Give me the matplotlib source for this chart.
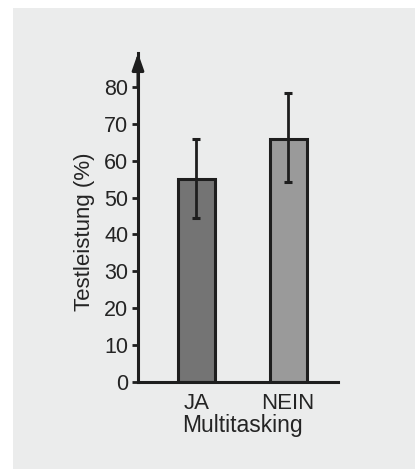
import matplotlib.pyplot as plt

# Data
categories = ['JA', 'NEIN']
values = [55, 66]
err_low = [44.4, 54.3]
err_high = [66, 78.4]
yticks = [0, 10, 20, 30, 40, 50, 60, 70, 80]

bar_colors = ['#747474', '#9a9a9a']
ink = '#1e1e1e'
bg = '#ebecec'
txt = '#242424'

plt.rcParams['font.family'] = ['Liberation Sans', 'DejaVu Sans']

fig = plt.figure(figsize=(4.15, 4.69), dpi=100)
fig.patch.set_facecolor('white')
# light grey panel behind the chart
fig.patches.append(plt.Rectangle((13 / 415, 0), 1, 1 - 8 / 469, transform=fig.transFigure,
                                 facecolor=bg, edgecolor='none', zorder=-10))

ax = fig.add_axes([138 / 415, 87 / 469, 200 / 415, 329 / 469])
ax.set_facecolor('none')

x = list(range(len(categories)))
yerr = [[v - lo for v, lo in zip(values, err_low)],
        [hi - v for v, hi in zip(values, err_high)]]
ax.bar(x, values, width=0.404, color=bar_colors, edgecolor=ink, linewidth=2.2, zorder=2)
ax.errorbar(x, values, yerr=yerr, fmt='none', ecolor=ink, elinewidth=2.0,
            capsize=3, capthick=2.2, zorder=3)

ax.set_xlim(-0.639, 1.546)
ax.set_ylim(0, 89.2)
ax.set_yticks(yticks)
ax.set_xticks(x)
ax.set_xticklabels(categories)

for s in ['top', 'right']:
    ax.spines[s].set_visible(False)
for s in ['left', 'bottom']:
    ax.spines[s].set_linewidth(2.2)
    ax.spines[s].set_color(ink)

ax.tick_params(axis='y', length=4, width=2, color=ink, labelsize=15.5, labelcolor=txt, pad=3)
ax.tick_params(axis='x', length=0, labelsize=16, labelcolor=txt, pad=8)

# arrow head on the y axis
ax.annotate('', xy=(0, 1.0), xytext=(0, 0.9), xycoords='axes fraction',
            arrowprops=dict(arrowstyle='-|>,head_length=1.0,head_width=0.35',
                            color=ink, lw=2.2, shrinkA=0, shrinkB=0))

ax.set_xlabel('Multitasking', fontsize=16.5, color=txt)
ax.xaxis.set_label_coords(0.52, -0.097)
ax.set_ylabel('Testleistung (%)', fontsize=16, color=txt)
ax.yaxis.set_label_coords(-0.215, 0.456)

fig.savefig('out.png', dpi=100)
